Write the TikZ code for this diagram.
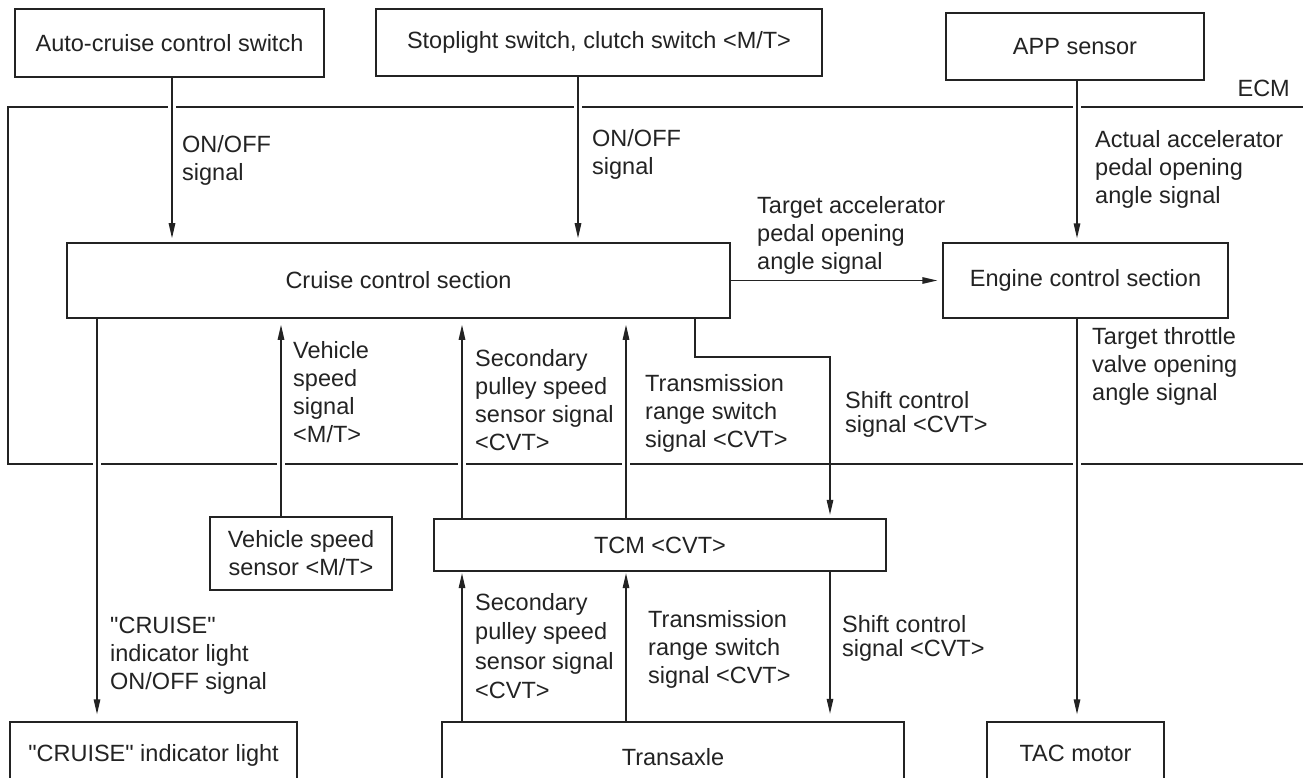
\documentclass[tikz,border=0pt]{standalone}
\usepackage{fontspec}
\setmainfont{Liberation Sans}[Ligatures=TeXOff]
\usetikzlibrary{arrows.meta,calc}
\definecolor{ink}{RGB}{35,35,35}
\newcommand\lf{\fontsize{23.5}{28}\selectfont}
\newcommand\lfs{\fontsize{23.5}{24.5}\selectfont}
\newcommand\lfm{\fontsize{23.5}{29.5}\selectfont}
\begin{document}
\begin{tikzpicture}[x=1pt,y=-1pt,
  box/.style={draw=ink,line width=1.4pt,inner sep=0pt,align=center,font=\lf,text=ink},
  thickbox/.style={box,line width=2.4pt},
  ecmframe/.style={draw=ink,line width=1.6pt},
  arr/.style={draw=ink,line width=1.4pt,-{Triangle[length=15pt,width=6.5pt]}},
  lab/.style={anchor=base west,inner sep=0pt,align=left,font=\lf,text=ink},
  gapfill/.style={fill=white,draw=none}]
\useasboundingbox (0,0) rectangle (1303,778);
\clip (0,0) rectangle (1303,778);
\fill[white] (0,0) rectangle (1303,778);

% ECM frame
\draw[ecmframe] (8,107) rectangle (1340,464);
\node[lab,anchor=base east] (ecmlab) at (1290,97) {ECM};

% boxes
\node[box,minimum width=309pt,minimum height=68pt] (acs) at (169.5,43) {Auto-cruise control switch};
\node[box,minimum width=446pt,minimum height=67pt] (stop) at (599,42.5) {Stoplight switch, clutch switch <M/T>};
\node[box,minimum width=258pt,minimum height=67pt] (app) at (1075,46.5) {APP sensor};
\node[box,line width=1.6pt,minimum width=663pt,minimum height=75pt] (cruise) at (398.5,280.5) {Cruise control section};
\node[box,minimum width=285pt,minimum height=75pt] (engine) at (1085.5,280.5) {Engine control section};
\node[thickbox,minimum width=182pt,minimum height=73pt] (vss) at (301,553.5) {Vehicle speed\\sensor <M/T>};
\node[thickbox,minimum width=452pt,minimum height=52pt] (tcm) at (660,545) {TCM <CVT>};
\node[box,minimum width=287pt,minimum height=66pt] (light) at (153.5,755) {"CRUISE" indicator light};
\node[thickbox,minimum width=462pt,minimum height=70pt] (trans) at (673,757) {Transaxle};
\node[box,minimum width=177pt,minimum height=62pt] (tac) at (1075.5,753) {TAC motor};

% columns
\coordinate (c1) at (172,0);
\coordinate (c2) at (578,0);
\coordinate (c3) at (1077,0);
\coordinate (c4) at (97,0);
\coordinate (c5) at (281,0);
\coordinate (c6) at (462,0);
\coordinate (c7) at (626,0);
\coordinate (c8) at (695,0);
\coordinate (bend) at (830,357);

% gaps in the ECM frame where lines cross
\foreach \x in {172,578,1077} \fill[gapfill] (\x-4,104.5) rectangle (\x+4,109.5);
\foreach \x in {97,281,462,626,1077} \fill[gapfill] (\x-4,461.5) rectangle (\x+4,466.5);

% connectors
\draw[arr,shorten >=4pt] (acs.south -| c1) -- (cruise.north -| c1);
\draw[arr,shorten >=4pt] (stop.south -| c2) -- (cruise.north -| c2);
\draw[arr,shorten >=4pt] (app.south -| c3) -- (engine.north -| c3);
\draw[arr,shorten >=5pt] (cruise.east) -- (engine.west);
\draw[arr,shorten >=7pt] (cruise.south -| c4) -- (light.north -| c4);
\draw[arr,shorten >=6pt] (vss.north -| c5) -- (cruise.south -| c5);
\draw[arr,shorten >=6pt] (tcm.north -| c6) -- (cruise.south -| c6);
\draw[arr,shorten >=6pt] (tcm.north -| c7) -- (cruise.south -| c7);
\draw[arr,shorten >=3pt] (cruise.south -| c8) |- (bend) -- (tcm.north -| bend);
\draw[arr,shorten >=7pt] (engine.south -| c3) -- (tac.north -| c3);
\draw[arr,shorten >=1pt] (trans.north -| c6) -- (tcm.south -| c6);
\draw[arr,shorten >=1pt] (trans.north -| c7) -- (tcm.south -| c7);
\draw[arr,shorten >=7pt] (tcm.south -| bend) -- (trans.north -| bend);

% labels (anchored at the baseline of their last line)
\node[lab] (l1) at (182,181) {ON/OFF\\signal};
\node[lab] (l2) at (592,175) {ON/OFF\\signal};
\node[lab] (l3) at (1095,204) {Actual accelerator\\pedal opening\\angle signal};
\node[lab] (l4) at (757,269) {Target accelerator\\pedal opening\\angle signal};
\node[lab] (l5) at (293,442) {Vehicle\\speed\\signal\\<M/T>};
\node[lab] (l6) at (475,450) {Secondary\\pulley speed\\sensor signal\\<CVT>};
\node[lab] (l7) at (645,447) {Transmission\\range switch\\signal <CVT>};
\node[lab,font=\lfs] (l8) at (845,432.5) {Shift control\\signal <CVT>};
\node[lab] (l9) at (1092,400) {Target throttle\\valve opening\\angle signal};
\node[lab] (l10) at (110,689) {"CRUISE"\\indicator light\\ON/OFF signal};
\node[lab,font=\lfm] (l11) at (475,698.5) {Secondary\\pulley speed\\sensor signal\\<CVT>};
\node[lab] (l12) at (648,683) {Transmission\\range switch\\signal <CVT>};
\node[lab,font=\lfs] (l13) at (842,656.5) {Shift control\\signal <CVT>};
\end{tikzpicture}
\end{document}
